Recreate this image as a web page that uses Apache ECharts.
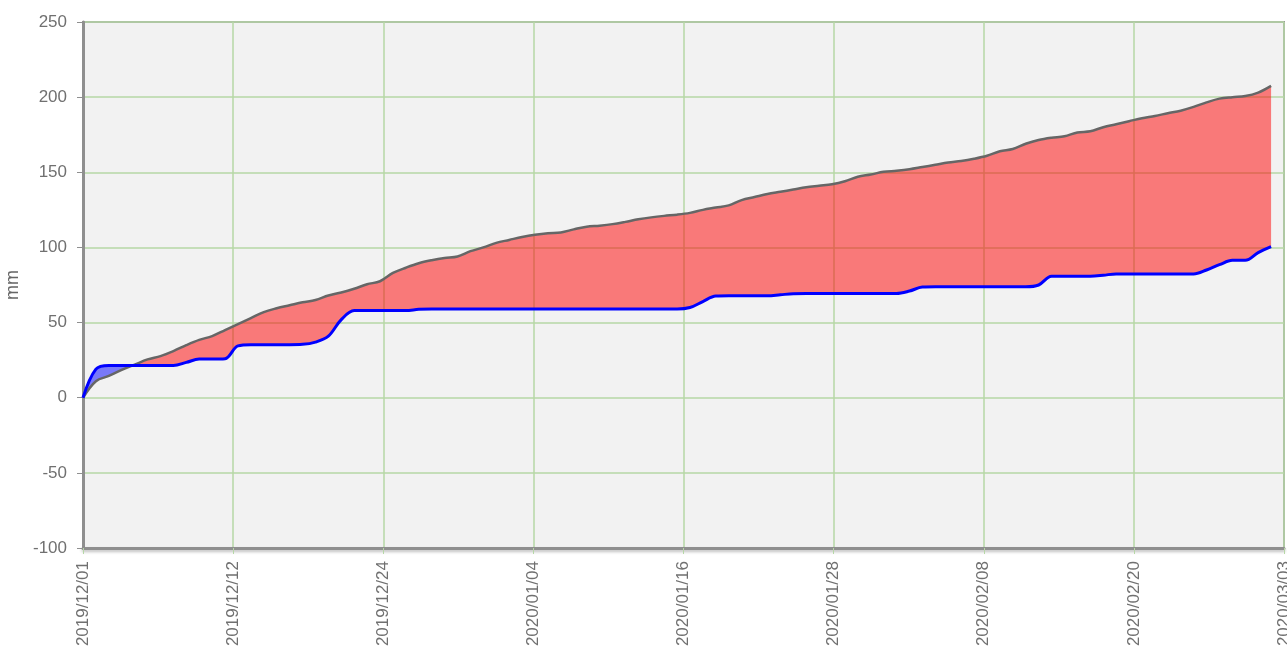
<!DOCTYPE html>
<html>
<head>
<meta charset="utf-8">
<script src="https://cdn.jsdelivr.net/npm/echarts@6/dist/echarts.min.js"></script>
<style>
  html, body { margin: 0; padding: 0; background: #fff; }
  #chart { width: 1287px; height: 646px; }
</style>
</head>
<body>
<div id="chart"></div>
<script>
// daily values from 2019/12/01, one point per day (mm, cumulative)
const startDate = Date.UTC(2019, 11, 1)
const dayCount = 93 // axis runs 2019/12/01 .. 2020/03/03
const normal = [
  0, 11, 14.5, 18.5, 22, 25.5, 27.7, 31, 35, 38.5,
  41, 45, 49, 53, 57, 59.5, 61.5, 63.5, 65, 68,
  70, 72.5, 75.5, 77.5, 83, 86.5, 89.5, 91.5, 93, 94,
  97.5, 100, 103, 105, 107, 108.5, 109.5, 110, 112, 113.8,
  114.5, 115.5, 117, 118.7, 120, 121, 121.8, 123, 125, 126.5,
  128, 131.5, 133.5, 135.5, 137, 138.5, 140, 141, 142, 144,
  147, 148.5, 150.3, 151, 152, 153.5, 155, 156.5, 157.5, 159,
  161, 164, 165.5, 169, 171.5, 173, 174, 176.5, 177.3, 180,
  182, 184, 186, 187.5, 189.3, 191, 193.5, 196.5, 199, 200,
  200.7, 203, 207.5
]
const actual = [
  0, 19, 21.5, 21.5, 21.5, 21.5, 21.5, 21.5, 23.5, 25.7,
  25.7, 26, 34.5, 35.3, 35.3, 35.3, 35.3, 35.5, 37, 41,
  52, 58, 58, 58, 58, 58, 58.8, 59, 59, 59,
  59, 59, 59, 59, 59, 59, 59, 59, 59, 59,
  59, 59, 59, 59, 59, 59, 59, 60, 64, 67.6,
  67.8, 67.8, 67.8, 67.8, 68.5, 69.2, 69.4, 69.4, 69.4, 69.4,
  69.4, 69.4, 69.4, 69.4, 71, 73.6, 73.8, 73.8, 73.8, 73.8,
  73.8, 73.8, 73.8, 73.8, 75, 80.8, 80.9, 80.9, 80.9, 81.5,
  82.4, 82.4, 82.4, 82.4, 82.4, 82.4, 82.4, 85, 88.5, 91.4,
  91.4, 96.5, 100.5
]
const yTicks = { min: -100, max: 250, step: 50 }

const fmtDay = v => {
  const d = new Date(startDate + Math.floor(v + 1e-6) * 86400000)
  const mm = String(d.getUTCMonth() + 1).padStart(2, '0')
  const dd = String(d.getUTCDate()).padStart(2, '0')
  return d.getUTCFullYear() + '/' + mm + '/' + dd
}

// one category per day, the last one (03/03) left empty so it sits on the right edge
const days = []
for (let i = 0; i <= dayCount; i++) days.push(fmtDay(i))

// fill band between the two curves: red where actual is below normal, blue where above
const base = normal.map((v, i) => Math.min(v, actual[i]))
const deficit = normal.map((v, i) => Math.max(0, v - actual[i]))
const surplus = normal.map((v, i) => Math.max(0, actual[i] - v))

const chart = echarts.init(document.getElementById('chart'))

const gridGreen = '#b6d7a6'
const axisGray = '#8f8f8f'
const fontFamily = 'Arial, "Liberation Sans", sans-serif'
const smoothness = 0.35

const fillSeries = (name, data, color) => ({
  name,
  type: 'line',
  xAxisIndex: 1,
  stack: 'band',
  data,
  smooth: smoothness,
  symbol: 'none',
  lineStyle: { opacity: 0, width: 0 },
  areaStyle: color ? { color, opacity: 1 } : { opacity: 0 },
  silent: true,
  z: 2,
})

chart.setOption({
  animation: false,
  backgroundColor: '#fff',
  textStyle: { fontFamily },
  grid: {
    left: 83,
    right: 3,
    top: 22,
    bottom: 98,
    outerBoundsMode: 'none',
    containLabel: false,
    show: true,
    backgroundColor: '#f2f2f2',
    borderColor: '#9a9a9a',
    borderWidth: 2,
  },
  xAxis: [
    {
      // labels and grid lines: 8 equal parts of the 93-day span
      type: 'value',
      min: 0,
      max: dayCount,
      interval: dayCount / 8,
      axisLine: {
        onZero: false,
        lineStyle: { color: axisGray, width: 3, shadowColor: 'rgba(0,0,0,0.25)', shadowBlur: 3, shadowOffsetY: 2 },
      },
      axisTick: { show: true, length: 6, lineStyle: { color: gridGreen } },
      splitLine: { show: true, lineStyle: { color: gridGreen, width: 1.5 } },
      axisLabel: {
        rotate: 90,
        margin: 13,
        fontSize: 17,
        color: '#707070',
        showMinLabel: true,
        showMaxLabel: true,
        formatter: fmtDay,
      },
    },
    {
      // daily positions for the series
      type: 'category',
      data: days,
      boundaryGap: false,
      show: false,
    },
  ],
  yAxis: {
    type: 'value',
    min: yTicks.min,
    max: yTicks.max,
    interval: yTicks.step,
    name: 'mm',
    nameLocation: 'middle',
    nameRotate: 90,
    nameGap: 59,
    nameTextStyle: { fontSize: 18, color: '#666' },
    axisLine: { show: true, onZero: false, lineStyle: { color: axisGray, width: 3 } },
    axisTick: { show: true, length: 6, lineStyle: { color: axisGray } },
    splitLine: { show: true, lineStyle: { color: gridGreen, width: 1.5 } },
    axisLabel: { fontSize: 17, color: '#707070', margin: 16 },
  },
  series: [
    fillSeries('base', base, null),
    fillSeries('deficit', deficit, 'rgba(255, 0, 0, 0.5)'),
    fillSeries('surplus', surplus, 'rgba(0, 0, 255, 0.5)'),
    {
      name: 'normal',
      type: 'line',
      xAxisIndex: 1,
      data: normal,
      smooth: smoothness,
      symbol: 'none',
      lineStyle: { color: '#666', width: 2.5 },
      z: 3,
    },
    {
      name: 'actual',
      type: 'line',
      xAxisIndex: 1,
      data: actual,
      smooth: smoothness,
      symbol: 'none',
      lineStyle: { color: '#0000ff', width: 3 },
      z: 4,
    },
  ],
})
</script>
</body>
</html>
